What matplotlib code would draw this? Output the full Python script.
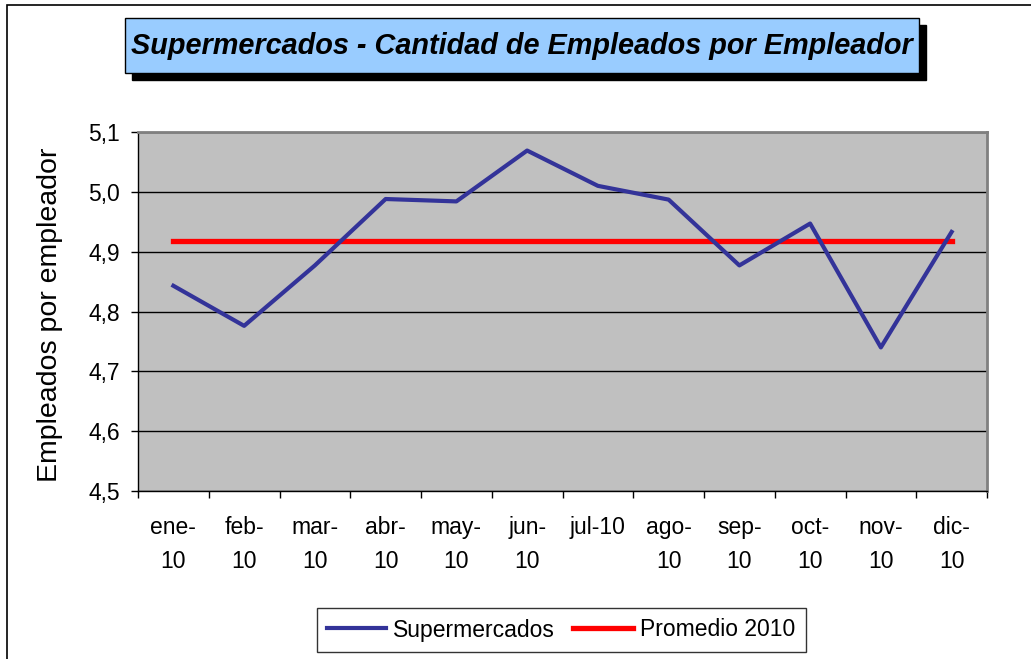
import matplotlib.pyplot as plt
from matplotlib.patches import Rectangle

plt.rcParams['font.family'] = ['Liberation Sans', 'DejaVu Sans']

# data
meses = ['ene-\n10', 'feb-\n10', 'mar-\n10', 'abr-\n10', 'may-\n10', 'jun-\n10',
         'jul-10', 'ago-\n10', 'sep-\n10', 'oct-\n10', 'nov-\n10', 'dic-\n10']
supermercados = [4.843, 4.776, 4.877, 4.988, 4.984, 5.069,
                 5.010, 4.987, 4.877, 4.947, 4.740, 4.933]
promedio_2010 = [4.918] * 12

W, H = 1031, 659
fig = plt.figure(figsize=(W / 100, H / 100), dpi=100)

# outer frame (only top and left visible)
fig.patches.append(Rectangle((7 / W, -0.1), 1.2, (H - 5) / H + 0.1, transform=fig.transFigure,
                             fill=False, edgecolor='black', linewidth=1.2))

# title box with shadow
x0, y0, x1, y1 = 125, 18, 919, 73
fig.patches.append(Rectangle(((x0 + 7) / W, 1 - (y1 + 7) / H), (x1 - x0) / W, (y1 - y0) / H,
                             transform=fig.transFigure, facecolor='black', edgecolor='black'))
fig.patches.append(Rectangle((x0 / W, 1 - y1 / H), (x1 - x0) / W, (y1 - y0) / H,
                             transform=fig.transFigure, facecolor='#99CCFF', edgecolor='black',
                             linewidth=1.0))
fig.text((x0 + x1) / 2 / W, 1 - (y0 + y1) / 2 / H,
         'Supermercados - Cantidad de Empleados por Empleador',
         ha='center', va='center', fontsize=20.8, fontweight='bold', style='italic')

ax = fig.add_axes([138 / W, 1 - 491 / H, 849 / W, 359 / H])
ax.set_facecolor('#C0C0C0')

x = list(range(len(meses)))
ax.plot(x, supermercados, color='#333399', linewidth=3, label='Supermercados', zorder=3)
ax.plot(x, promedio_2010, color='#FF0000', linewidth=3.8, label='Promedio 2010', zorder=2)

ax.set_xlim(-0.5, len(meses) - 0.5)
ax.set_ylim(4.5, 5.1)
ax.set_yticks([4.5, 4.6, 4.7, 4.8, 4.9, 5.0, 5.1])
ax.set_yticklabels(['4,5', '4,6', '4,7', '4,8', '4,9', '5,0', '5,1'])
ax.yaxis.grid(True, color='black', linewidth=1)
ax.set_axisbelow(True)

ax.set_xticks(x)
ax.set_xticklabels(meses, va='top', linespacing=1.6)
ax.set_xticks([i - 0.5 for i in range(len(meses) + 1)], minor=True)
ax.tick_params(axis='x', which='major', length=0, pad=18, labelsize=16.5)
ax.tick_params(axis='x', which='minor', length=5, width=1, direction='out')
ax.tick_params(axis='y', length=5, width=1, pad=8, labelsize=16.5)

for s in ['top', 'right']:
    ax.spines[s].set_color('#808080')
    ax.spines[s].set_linewidth(2)
for s in ['left', 'bottom']:
    ax.spines[s].set_color('black')
    ax.spines[s].set_linewidth(1)

fig.text(50 / W, 1 - 315 / H, 'Empleados por empleador', rotation=90,
         ha='center', va='center', fontsize=20.5)

leg = fig.legend(loc='center', bbox_to_anchor=(561 / W, 1 - 630 / H), ncol=2,
                 fontsize=16.5, frameon=True, fancybox=False, edgecolor='black',
                 handlelength=2.6, handletextpad=0.3, columnspacing=0.8,
                 borderpad=0.45)
leg.get_frame().set_linewidth(1)

fig.savefig('out.png', dpi=100)
